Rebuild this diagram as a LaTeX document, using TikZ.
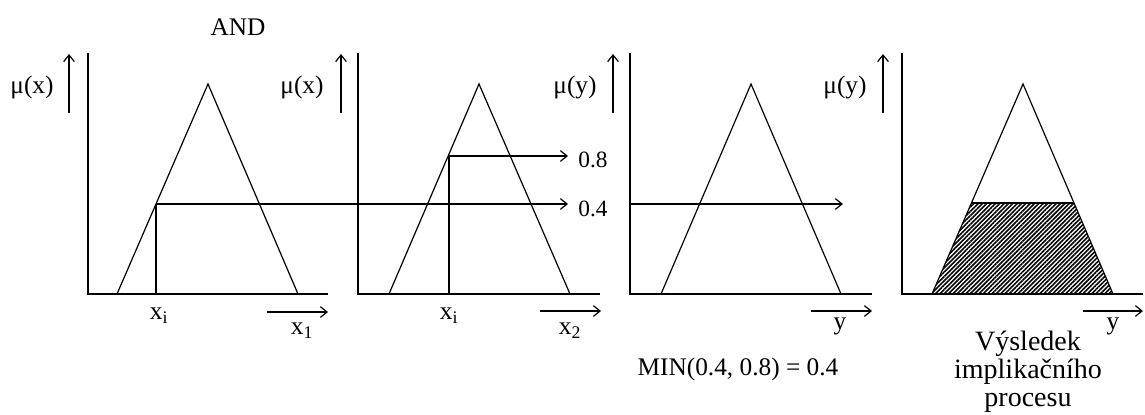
\documentclass[tikz,border=0pt]{standalone}
\usepackage{fontspec}
\setmainfont{Liberation Serif}
\usetikzlibrary{arrows.meta,patterns.meta}
\begin{document}
\begin{tikzpicture}[x=0.75pt,y=-0.75pt,
  ln/.style={line width=0.9pt},
  arr/.style={ln,-{Straight Barb[length=5pt,width=8pt]}},
  lbl/.style={font=\fontsize{19}{21}\selectfont, inner sep=0pt},
  num/.style={font=\fontsize{17.5}{20}\selectfont, inner sep=0pt},
  big/.style={font=\fontsize{21}{21}\selectfont, inner sep=0pt, align=center},
]
\useasboundingbox (0,0) rectangle (1145,414);

% ---------- labels ----------
\node[lbl] (and) at (238,27) {AND};
\node[lbl] (mu1) at (32,87) {μ(x)};
\node[lbl] (mu2) at (302,87) {μ(x)};
\node[lbl] (mu3) at (575,87) {μ(y)};
\node[lbl] (mu4) at (845,87) {μ(y)};
\node[lbl] (xi1) at (159,316) {x\textsubscript{i}};
\node[lbl] (xi2) at (449,316) {x\textsubscript{i}};
\node[lbl] (x1) at (302,331) {x\textsubscript{1}};
\node[lbl] (x2) at (570,331) {x\textsubscript{2}};
\node[lbl] (y3) at (840,326) {y};
\node[lbl] (y4) at (1113,326) {y};
\node[num] (v08) at (593,160) {0.8};
\node[num] (v04) at (593,209) {0.4};
\node[lbl] (min) at (738,369) {MIN(0.4, 0.8) = 0.4};
\node[big] (res) at (1028,372) {Výsledek\\implikačního\\procesu};

% ---------- y-axis arrows beside labels ----------
\coordinate (a1b) at (69,113); \coordinate (a1t) at (69,54);
\coordinate (a2b) at (341,113); \coordinate (a2t) at (341,54);
\coordinate (a3b) at (613,113); \coordinate (a3t) at (613,54);
\coordinate (a4b) at (883,113); \coordinate (a4t) at (883,54);
\draw[arr] (a1b) -- (a1t);
\draw[arr] (a2b) -- (a2t);
\draw[arr] (a3b) -- (a3t);
\draw[arr] (a4b) -- (a4t);

% ---------- x-axis arrows ----------
\coordinate (b1s) at (267,312); \coordinate (b1e) at (328,312);
\coordinate (b2s) at (540,311); \coordinate (b2e) at (601,311);
\coordinate (b3s) at (811,311); \coordinate (b3e) at (872,311);
\coordinate (b4s) at (1083,311); \coordinate (b4e) at (1143,311);
\draw[arr] (b1s) -- (b1e);
\draw[arr] (b2s) -- (b2e);
\draw[arr] (b3s) -- (b3e);
\draw[arr] (b4s) -- (b4e);

% ---------- panel 1 ----------
\draw[ln] (88,53) -- (88,294) -- (328,294);
\draw[ln] (117,294) -- (208,84) -- (298,294);
\coordinate (p1) at (156,204);
\draw[ln] (156,294) -- (p1);
\coordinate (e04) at (568,204);
\draw[arr] (p1) -- (e04);

% ---------- panel 2 ----------
\draw[ln] (358,53) -- (358,294) -- (600,294);
\draw[ln] (389,294) -- (479,84) -- (570,294);
\coordinate (p2) at (449,156);
\draw[ln] (449,294) -- (p2);
\coordinate (e08) at (568,156);
\draw[arr] (p2) -- (e08);

% ---------- panel 3 ----------
\draw[ln] (630,53) -- (630,294) -- (872,294);
\draw[ln] (661,294) -- (751,84) -- (841,294);
\coordinate (p3) at (630,204);
\coordinate (e3) at (843,204);
\draw[arr] (p3) -- (e3);

% ---------- panel 4 ----------
\fill[pattern={Lines[angle=45,distance=2.3pt,line width=1.2pt]}]
  (932,294) -- (971.4,203) -- (1073.6,203) -- (1113,294) -- cycle;
\draw[ln] (902,53) -- (902,294) -- (1143,294);
\draw[ln] (932,294) -- (1023,84) -- (1113,294);
\draw[ln] (971.4,203) -- (1073.6,203);
\end{tikzpicture}
\end{document}
